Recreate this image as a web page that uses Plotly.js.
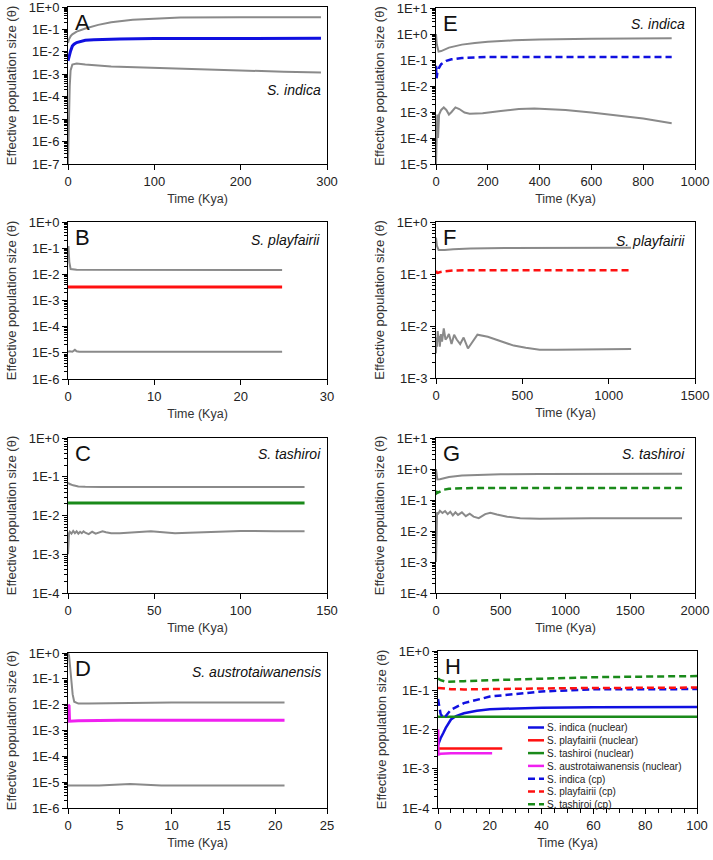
<!DOCTYPE html>
<html><head><meta charset="utf-8">
<script src="https://cdn.plot.ly/plotly-3.0.1.min.js"></script>
<style>html,body{margin:0;padding:0;background:#fff}#chart{width:713px;height:860px}</style>
</head><body><div id="chart"></div><script>
// ---------------- DATA ----------------
// y tick labels per panel (log axes)
const yTicksA = ['1E-7','1E-6','1E-5','1E-4','1E-3','1E-2','1E-1','1E+0'];
const yTicksE = ['1E-5','1E-4','1E-3','1E-2','1E-1','1E+0','1E+1'];
const yTicksB = ['1E-6','1E-5','1E-4','1E-3','1E-2','1E-1','1E+0'];
const yTicksF = ['1E-3','1E-2','1E-1','1E+0'];
const yTicksC = ['1E-4','1E-3','1E-2','1E-1','1E+0'];
const yTicksG = ['1E-4','1E-3','1E-2','1E-1','1E+0','1E+1'];
const yTicksD = ['1E-6','1E-5','1E-4','1E-3','1E-2','1E-1','1E+0'];
const yTicksH = ['1E-4','1E-3','1E-2','1E-1','1E+0'];

const species = ['S. indica','S. playfairii','S. tashiroi','S. austrotaiwanensis'];

// A: S. indica nuclear
const A_hi_x = [0, 1, 3, 5, 10, 20, 35, 50, 75, 100, 130, 200, 293];
const A_hi_y = [0.025, 0.035, 0.05, 0.06, 0.08, 0.11, 0.16, 0.21, 0.27, 0.31, 0.34, 0.35, 0.35];
const A_lo_x = [0, 0.5, 1, 2, 3, 5, 10, 20, 50, 100, 150, 200, 250, 293];
const A_lo_y = [1e-7, 1e-6, 1e-5, 3e-4, 0.0015, 0.0027, 0.003, 0.0027, 0.0022, 0.0019, 0.0017, 0.0015, 0.0013, 0.0012];
const indNuc_x = [0, 0.5, 1, 2, 3, 5, 7, 10, 15, 20, 30, 40, 60, 100, 150, 200, 293];
const indNuc_y = [0.004, 0.005, 0.006, 0.008, 0.011, 0.018, 0.022, 0.026, 0.030, 0.033, 0.035, 0.036, 0.037, 0.039, 0.04, 0.04, 0.04];

// E: S. indica cp
const E_hi_x = [0, 3, 10, 20, 50, 100, 150, 200, 300, 400, 600, 800, 910];
const E_hi_y = [1.0, 0.4, 0.21, 0.22, 0.3, 0.39, 0.45, 0.5, 0.57, 0.62, 0.66, 0.68, 0.69];
const E_lo_x = [0, 2, 5, 8, 12, 20, 30, 40, 50, 60, 75, 90, 110, 130, 180, 250, 320, 380, 450, 500, 600, 700, 800, 910];
const E_lo_y = [1e-5, 1e-4, 8e-4, 1e-4, 8e-4, 1.2e-3, 1.5e-3, 1.2e-3, 8e-4, 1.0e-3, 1.5e-3, 1.3e-3, 9.5e-4, 8.5e-4, 9e-4, 1.1e-3, 1.3e-3, 1.35e-3, 1.3e-3, 1.2e-3, 9.5e-4, 7.5e-4, 5.6e-4, 3.7e-4];
const indCp_x = [0, 0.5, 1, 2, 3, 5, 10, 20, 40, 60, 100, 200, 400, 600, 910];
const indCp_y = [0.06, 0.04, 0.025, 0.02, 0.022, 0.032, 0.047, 0.069, 0.093, 0.106, 0.12, 0.13, 0.13, 0.13, 0.13];

// B: S. playfairii nuclear
const B_hi_x = [0, 0.05, 0.15, 0.3, 1, 2, 5, 10, 24.8];
const B_hi_y = [0.1, 0.12, 0.03, 0.016, 0.015, 0.015, 0.0145, 0.0145, 0.0145];
const B_lo_x = [0, 0.2, 0.5, 0.8, 1.0, 1.3, 2, 10, 24.8];
const B_lo_y = [1.1e-5, 1.15e-5, 1.1e-5, 1.3e-5, 1.15e-5, 1.1e-5, 1.1e-5, 1.1e-5, 1.1e-5];
const plaNuc_x = [0, 5, 10, 15, 20, 24.8];
const plaNuc_y = [0.0033, 0.0033, 0.0033, 0.0033, 0.0033, 0.0033];

// F: S. playfairii cp
const F_hi_x = [0, 5, 15, 50, 100, 200, 400, 700, 1130];
const F_hi_y = [0.5, 0.35, 0.29, 0.29, 0.3, 0.31, 0.315, 0.32, 0.32];
const F_lo_x = [0, 3, 6, 10, 14, 18, 22, 28, 35, 45, 55, 65, 75, 90, 105, 120, 140, 160, 185, 210, 240, 300, 350, 400, 450, 520, 600, 700, 900, 1130];
const F_lo_y = [0.003, 0.006, 0.004, 0.008, 0.005, 0.0065, 0.004, 0.007, 0.005, 0.009, 0.0055, 0.006, 0.007, 0.0045, 0.0068, 0.0055, 0.0045, 0.006, 0.0037, 0.005, 0.0068, 0.0062, 0.0055, 0.0048, 0.0042, 0.0038, 0.0035, 0.0035, 0.0035, 0.0036];
const plaCp_x = [0, 2, 5, 10, 20, 50, 100, 200, 500, 1130];
const plaCp_y = [0.115, 0.11, 0.106, 0.105, 0.108, 0.113, 0.117, 0.118, 0.118, 0.118];

// C: S. tashiroi nuclear
const C_hi_x = [0, 1, 3, 6, 10, 20, 50, 100, 137];
const C_hi_y = [0.07, 0.065, 0.06, 0.056, 0.055, 0.054, 0.054, 0.054, 0.054];
const C_lo_x = [0, 0.3, 0.6, 1, 2, 3, 4, 5, 6, 7, 8, 9, 10, 12, 14, 16, 18, 20, 22, 25, 30, 40, 48, 55, 62, 70, 85, 100, 120, 137];
const C_lo_y = [0.001, 0.003, 0.0035, 0.0038, 0.0034, 0.004, 0.0035, 0.0039, 0.0034, 0.0038, 0.0035, 0.0039, 0.0036, 0.0033, 0.0038, 0.0034, 0.0036, 0.0039, 0.0037, 0.0035, 0.0035, 0.0037, 0.0039, 0.0037, 0.0035, 0.0036, 0.0038, 0.004, 0.0039, 0.0039];
const tasNuc_x = [0, 20, 40, 60, 80, 100, 120, 137];
const tasNuc_y = [0.021, 0.021, 0.021, 0.021, 0.021, 0.021, 0.021, 0.021];

// G: S. tashiroi cp
const G_hi_x = [0, 3, 10, 30, 100, 200, 350, 500, 800, 1200, 1900];
const G_hi_y = [1.0, 0.6, 0.46, 0.47, 0.55, 0.62, 0.66, 0.68, 0.69, 0.7, 0.7];
const G_lo_x = [0, 3, 8, 15, 30, 50, 70, 90, 110, 130, 150, 170, 200, 230, 260, 290, 330, 380, 420, 470, 550, 650, 800, 1200, 1900];
const G_lo_y = [0.001, 0.02, 0.04, 0.035, 0.045, 0.038, 0.044, 0.035, 0.042, 0.032, 0.04, 0.033, 0.04, 0.03, 0.036, 0.029, 0.026, 0.035, 0.039, 0.034, 0.029, 0.026, 0.025, 0.026, 0.026];
const tasCp_x = [0, 1, 3, 6, 10, 20, 40, 60, 100, 200, 400, 800, 1900];
const tasCp_y = [0.2, 0.18, 0.165, 0.165, 0.17, 0.18, 0.2, 0.215, 0.23, 0.24, 0.245, 0.245, 0.245];

// D: S. austrotaiwanensis nuclear
const D_hi_x = [0, 0.1, 0.2, 0.3, 0.45, 0.6, 1, 2, 5, 10, 20.9];
const D_hi_y = [1.0, 0.8, 0.3, 0.08, 0.025, 0.013, 0.011, 0.011, 0.0115, 0.012, 0.012];
const D_lo_x = [0, 0.5, 0.8, 1.0, 1.3, 1.5, 3, 5, 6, 7, 9, 15, 20.9];
const D_lo_y = [7.5e-6, 7.5e-6, 8e-6, 7.5e-6, 8e-6, 7.5e-6, 7.5e-6, 8.2e-6, 8.5e-6, 8.2e-6, 7.5e-6, 7.5e-6, 7.5e-6];
const ausNuc_x = [0, 0.1, 0.15, 0.3, 1, 5, 10, 15, 20.9];
const ausNuc_y = [0.01, 0.009, 0.0023, 0.0023, 0.0024, 0.0025, 0.0025, 0.0025, 0.0025];

// ---------------- STYLE ----------------
const GRAY = '#8a8a8a', BLUE = '#1010e0', RED = '#ff1010', GREEN = '#1a8a1a', MAGENTA = '#f020f0';
const DASH = '7px,4px';
const FONT = 'Liberation Sans, Arial, sans-serif';
const W = 713, HT = 860;

function dom(l, r, t, b) { return {x: [l / W, r / W], y: [1 - b / HT, 1 - t / HT]}; }

const panels = [
  {id: '',  box: [68, 327, 7, 164],   xr: [0, 300],  dt: 100, yt: yTicksA, letter: 'A', sp: species[0], spx: 0.985, spy: 0.47},
  {id: '2', box: [436, 695, 8, 164],  xr: [0, 1000], dt: 200, yt: yTicksE, letter: 'E', sp: species[0], spx: 0.97, spy: 0.9},
  {id: '3', box: [68, 327, 222, 379], xr: [0, 30],   dt: 10,  yt: yTicksB, letter: 'B', sp: species[1], spx: 0.98, spy: 0.885},
  {id: '4', box: [436, 695, 222, 378],xr: [0, 1500], dt: 500, yt: yTicksF, letter: 'F', sp: species[1], spx: 0.97, spy: 0.88},
  {id: '5', box: [68, 327, 438, 593], xr: [0, 150],  dt: 50,  yt: yTicksC, letter: 'C', sp: species[2], spx: 0.985, spy: 0.9},
  {id: '6', box: [436, 695, 438, 593],xr: [0, 2000], dt: 500, yt: yTicksG, letter: 'G', sp: species[2], spx: 0.97, spy: 0.895},
  {id: '7', box: [68, 327, 653, 808], xr: [0, 25],   dt: 5,   yt: yTicksD, letter: 'D', sp: species[3], spx: 0.985, spy: 0.88},
  {id: '8', box: [438, 697, 651, 808],xr: [0, 100],  dt: 20,  yt: yTicksH, letter: 'H', sp: null, minorX: 5}
];

const layout = {
  width: W, height: HT, margin: {l: 0, r: 0, t: 0, b: 0},
  paper_bgcolor: '#fff', plot_bgcolor: '#fff',
  font: {family: FONT, size: 13, color: '#222'},
  showlegend: true,
  legend: {x: 523 / W, xanchor: 'left', y: 1 - 713 / HT, yanchor: 'top',
           bgcolor: 'rgba(0,0,0,0)', borderwidth: 0, font: {size: 10, color: '#222'},
           itemwidth: 30, tracegroupgap: 0},
  annotations: []
};

panels.forEach(p => {
  const d = dom(...p.box);
  const vals = p.yt.map(Number);
  const lo = Math.log10(vals[0]), hi = Math.log10(vals[vals.length - 1]);
  const minorVals = [];
  for (let k = Math.round(lo); k < Math.round(hi); k++) for (let m = 2; m <= 9; m++) minorVals.push(m * Math.pow(10, k));
  layout['xaxis' + p.id] = {
    domain: d.x, anchor: 'y' + p.id, range: p.xr, dtick: p.dt, tick0: 0,
    showline: true, linecolor: '#000', linewidth: 1, mirror: true,
    ticks: 'outside', ticklen: 5, tickcolor: '#000', showgrid: false, zeroline: false,
    tickfont: {size: 13, color: '#222'}, automargin: false, ticklabeloverflow: 'allow',
    title: {text: 'Time (Kya)', font: {size: 12.5, color: '#333'}, standoff: 6},
    minor: p.minorX ? {dtick: p.minorX, ticks: 'outside', ticklen: 4, tickcolor: '#000', showgrid: false} : undefined
  };
  layout['yaxis' + p.id] = {
    domain: d.y, anchor: 'x' + p.id, type: 'log', range: [lo, hi],
    tickmode: 'array', tickvals: vals, ticktext: p.yt,
    showline: true, linecolor: '#000', linewidth: 1, mirror: true,
    ticks: 'outside', ticklen: 5, tickcolor: '#000', showgrid: false, zeroline: false,
    tickfont: {size: 13, color: '#222'}, automargin: false, ticklabeloverflow: 'allow',
    title: {text: 'Effective population size (θ)', font: {size: 13, color: '#333'}, standoff: 9},
    minor: {tickmode: 'array', tickvals: minorVals, ticks: 'outside', ticklen: 3, tickcolor: '#000', showgrid: false}
  };
  layout.annotations.push({xref: 'x' + p.id + ' domain', yref: 'y' + p.id + ' domain', x: 0.02, y: 0.9,
    xanchor: 'left', yanchor: 'middle', text: p.letter, showarrow: false, font: {size: 22, color: '#111'}});
  if (p.sp) layout.annotations.push({xref: 'x' + p.id + ' domain', yref: 'y' + p.id + ' domain', x: p.spx, y: p.spy,
    xanchor: 'right', yanchor: 'middle', text: '<i>' + p.sp + '</i>', showarrow: false, font: {size: 14, color: '#111'}});
});

function tr(x, y, ax, color, width, dash, name, legend) {
  return {type: 'scatter', mode: 'lines', x: x, y: y, xaxis: 'x' + ax, yaxis: 'y' + ax,
    line: {color: color, width: width, dash: dash || 'solid'}, name: name || '', showlegend: !!legend,
    hoverinfo: 'skip'};
}

const data = [
  // A
  tr(A_hi_x, A_hi_y, '', GRAY, 2), tr(A_lo_x, A_lo_y, '', GRAY, 2), tr(indNuc_x, indNuc_y, '', BLUE, 3),
  // E
  tr(E_hi_x, E_hi_y, '2', GRAY, 2), tr(E_lo_x, E_lo_y, '2', GRAY, 2), tr(indCp_x, indCp_y, '2', BLUE, 2.5, DASH),
  // B
  tr(B_hi_x, B_hi_y, '3', GRAY, 2), tr(B_lo_x, B_lo_y, '3', GRAY, 2), tr(plaNuc_x, plaNuc_y, '3', RED, 3),
  // F
  tr(F_hi_x, F_hi_y, '4', GRAY, 2), tr(F_lo_x, F_lo_y, '4', GRAY, 2), tr(plaCp_x, plaCp_y, '4', RED, 2.5, DASH),
  // C
  tr(C_hi_x, C_hi_y, '5', GRAY, 2), tr(C_lo_x, C_lo_y, '5', GRAY, 2), tr(tasNuc_x, tasNuc_y, '5', GREEN, 3),
  // G
  tr(G_hi_x, G_hi_y, '6', GRAY, 2), tr(G_lo_x, G_lo_y, '6', GRAY, 2), tr(tasCp_x, tasCp_y, '6', GREEN, 2.5, DASH),
  // D
  tr(D_hi_x, D_hi_y, '7', GRAY, 2), tr(D_lo_x, D_lo_y, '7', GRAY, 2), tr(ausNuc_x, ausNuc_y, '7', MAGENTA, 3),
  // H (combined medians)
  tr(indNuc_x, indNuc_y, '8', BLUE, 2.5, null, species[0] + ' (nuclear)', true),
  tr(plaNuc_x, plaNuc_y, '8', RED, 2.5, null, species[1] + ' (nuclear)', true),
  tr(tasNuc_x, tasNuc_y, '8', GREEN, 2.5, null, species[2] + ' (nuclear)', true),
  tr(ausNuc_x, ausNuc_y, '8', MAGENTA, 2.5, null, species[3] + ' (nuclear)', true),
  tr(indCp_x, indCp_y, '8', BLUE, 2.5, DASH, species[0] + ' (cp)', true),
  tr(plaCp_x, plaCp_y, '8', RED, 2.5, DASH, species[1] + ' (cp)', true),
  tr(tasCp_x, tasCp_y, '8', GREEN, 2.5, DASH, species[2] + ' (cp)', true)
];

const gd = document.getElementById('chart');
Plotly.newPlot(gd, data, layout, {staticPlot: true, displayModeBar: false}).then(() => {
  // compact legend rows (Excel-style tight spacing)
  const items = gd.querySelectorAll('.legend .traces');
  let y0 = null;
  items.forEach((g, i) => {
    const m = /translate\(([-\d.]+)[ ,]+([-\d.]+)\)/.exec(g.getAttribute('transform') || '');
    if (!m) return;
    if (y0 === null) y0 = parseFloat(m[2]);
    g.setAttribute('transform', 'translate(' + m[1] + ',' + (y0 + i * 12.8) + ')');
    g.querySelectorAll('.legendlines path').forEach(p => p.setAttribute('d', 'M5,0h16'));
    const t = g.querySelector('text.legendtext');
    if (t) t.setAttribute('x', 24);
  });
});
</script></body></html>
